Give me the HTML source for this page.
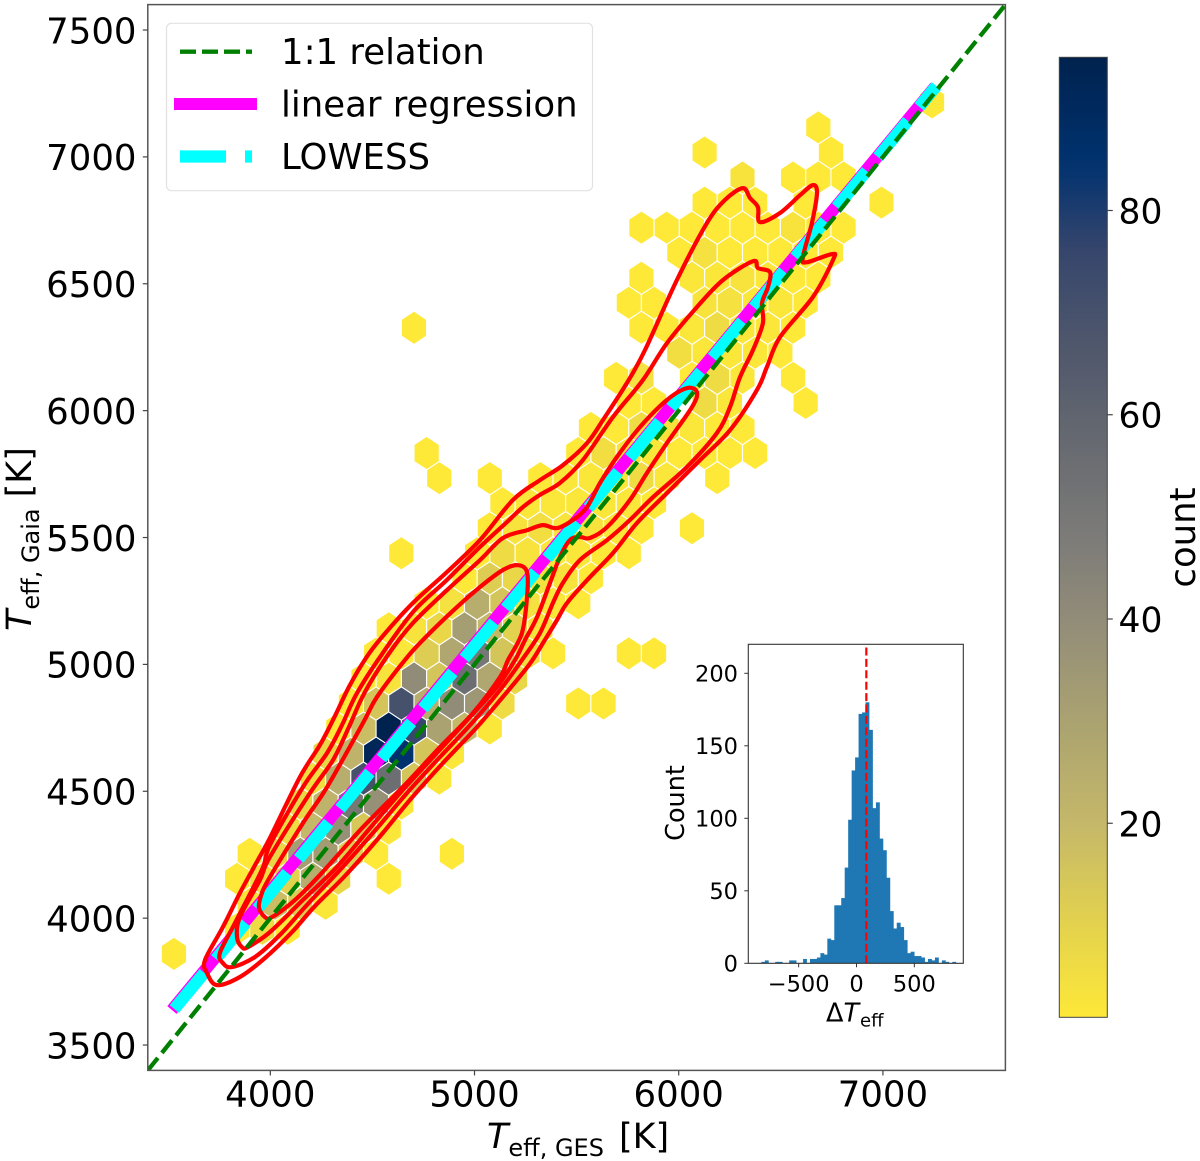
<!DOCTYPE html>
<html>
<head>
<meta charset="utf-8">
<title>Teff GES vs Gaia</title>
<style>
html,body{margin:0;padding:0;background:#fff;}
svg{display:block;font-family:"DejaVu Sans","Liberation Sans",sans-serif;}
</style>
</head>
<body>
<svg id="fig" xmlns="http://www.w3.org/2000/svg" width="1200" height="1161" viewBox="0 0 1200 1161">
  <defs>
    <clipPath id="axclip"><rect x="147.8" y="4.6" width="857.6" height="1065.8"/></clipPath>
    <linearGradient id="cbgrad" x1="0" y1="1" x2="0" y2="0"></linearGradient>
  </defs>
  <g id="hexes" clip-path="url(#axclip)"></g>
  <g id="lines" clip-path="url(#axclip)"></g>
  <g id="contours" clip-path="url(#axclip)"></g>
  <g id="identity" clip-path="url(#axclip)"></g>
  <rect x="147.8" y="4.6" width="857.6" height="1065.8" fill="none" stroke="#555" stroke-width="1.5"/>
  <g id="mainticks"></g>
  <text x="487" y="1148" font-size="35" fill="#000"><tspan font-style="italic">T</tspan><tspan font-size="24" dy="8" dx="0">eff, GES</tspan><tspan dy="-8" dx="15">[K]</tspan></text>
  <text transform="translate(31,631) rotate(-90)" font-size="35" fill="#000"><tspan font-style="italic">T</tspan><tspan font-size="24" dy="8" dx="0">eff, Gaia</tspan><tspan dy="-8" dx="11">[K]</tspan></text>

  <g>
    <rect x="166.5" y="23.3" width="426" height="167.4" rx="5" fill="#fff" fill-opacity="0.85" stroke="#e2e2e2" stroke-width="1.2"/>
    <line x1="180" y1="51.7" x2="252" y2="51.7" stroke="#008000" stroke-width="4.3" stroke-dasharray="16 6"/>
    <line x1="174" y1="104" x2="257" y2="104" stroke="#ff00ff" stroke-width="12"/>
    <line x1="180" y1="156.5" x2="252" y2="156.5" stroke="#00ffff" stroke-width="12.3" stroke-dasharray="46 19"/>
    <text x="281" y="64" font-size="35.5" fill="#000">1:1 relation</text>
    <text x="281" y="116.5" font-size="35.5" fill="#000">linear regression</text>
    <text x="281" y="169" font-size="35.5" fill="#000">LOWESS</text>
  </g>

  <g>
    <rect x="748.3" y="644.3" width="215" height="319" fill="#fff"/>
    <g id="histbars"></g>
    <line id="histmean" stroke="#ff0000" stroke-width="2.2" stroke-dasharray="8 3.4"/>
    <rect x="748.3" y="644.3" width="215" height="319" fill="none" stroke="#333" stroke-width="1.1"/>
    <g id="insetticks"></g>
    <text transform="translate(684,803) rotate(-90)" text-anchor="middle" font-size="25.5" fill="#000">Count</text>
    <text x="826" y="1021.5" font-size="25.5" fill="#000">Δ<tspan font-style="italic">T</tspan><tspan font-size="18" dy="5" dx="1">eff</tspan></text>
  </g>

  <g>
    <rect x="1059.3" y="57.3" width="48" height="960" fill="url(#cbgrad)" stroke="#444" stroke-width="1"/>
    <g id="cbticks"></g>
    <text transform="translate(1195,537.5) rotate(-90)" text-anchor="middle" font-size="35.5" fill="#000">count</text>
  </g>
</svg>
<script>
// ---- main axis tick values ----
const xTickValues = [4000, 5000, 6000, 7000];
const yTickValues = [3500, 4000, 4500, 5000, 5500, 6000, 6500, 7000, 7500];
const colorbarTicks = [20, 40, 60, 80];
const colorRange = [1, 95];

// ---- hexbin grid (kelvin) and counts: {row: {col: count}} ----
const hexOriginGes = 3528;
const hexOriginGaia = 3859;
const hexBinGes = 123.75;
const hexBinGaia = 98.7;
const hexbinCounts = {
  0:{0:1},
  1:{2:1,3:6,4:1},
  2:{3:3,4:18,5:12,6:2},
  3:{2:1,3:5,4:10,5:25,6:8,8:1},
  4:{3:1,4:8,5:32,6:33,7:12,8:1,11:1},
  5:{4:6,5:20,6:38,7:14,8:2},
  6:{5:8,6:22,7:50,8:38,9:2},
  7:{5:5,6:25,7:70,8:55,9:15,10:2},
  8:{6:8,7:22,8:92,9:85,10:15,11:2},
  9:{6:1,7:18,8:95,9:75,10:30,11:20,12:2},
  10:{7:1,8:15,9:70,10:25,11:40,12:35,13:6,16:1,17:1},
  11:{7:1,8:3,9:40,10:15,11:55,12:28,13:8},
  12:{8:1,9:2,10:12,11:28,12:50,13:15,14:5,15:1,18:1,19:1},
  13:{8:1,9:3,10:8,11:32,12:20,13:10,14:3},
  14:{10:1,11:4,12:25,13:15,14:4,15:2,16:1},
  15:{11:1,12:12,13:8,14:4,15:3,16:1},
  16:{9:1,12:1,13:6,14:3,15:2,16:2,17:1,18:1},
  17:{12:1,13:3,14:5,15:3,16:3,17:2,18:1,20:1},
  18:{13:1,14:2,15:2,16:2,17:2,18:2,19:1},
  19:{10:1,12:1,14:1,15:2,16:2,17:2,18:6,19:2,21:1},
  20:{10:1,16:1,17:5,18:3,19:2,20:1,21:1,22:1,23:1},
  21:{16:1,17:1,18:6,19:3,20:2,21:1,22:1},
  22:{18:1,19:1,21:6,22:2,25:1},
  23:{17:1,18:4,20:1,21:6,22:2,24:1},
  24:{20:5,21:2,22:2,23:2,24:1},
  25:{9:1,18:1,19:1,20:2,21:6,22:2,23:2,24:1},
  26:{18:1,19:1,21:3,22:4,23:2,24:2,25:1},
  27:{18:1,20:2,21:2,22:3,23:2,24:1,25:1},
  28:{20:1,21:4,22:1,23:1,24:1,25:1,26:1},
  29:{18:1,19:1,20:1,21:1,22:1,23:1,24:3,25:1,26:1},
  30:{21:1,22:1,23:1,25:1,28:1},
  31:{22:3,24:1,25:1,26:1},
  32:{21:1,26:1},
  33:{25:1},
  34:{30:1}
};

// ---- fitted relations ----
const identityGes = [3400, 7600];
const identityGaia = [3400, 7600];
const regressionGes = [3518, 7256];
const regressionGaia = [3638, 7277];
const lowessGes = [3530, 4000, 4500, 5000, 5500, 6000, 6500, 7000, 7262];
const lowessGaia = [3642, 4098, 4586, 5072, 5560, 6048, 6536, 7022, 7280];

// ---- KDE contours: closed outlines, kelvin ----
const contourOuterGes = [3690,3680,3768,3851,3939,3998,4145,4243,4312,4385,4468,4547,4698,4865,5027,5188,5320,5433,5551,5629,5746,5835,5991,6138,6226,6314,6349,6388,6398,6496,6594,6657,6677,6652,6608,6628,6750,6755,6657,6496,6432,6383,6251,6104,5942,5795,5678,5551,5453,5404,5335,5267,5139,5012,4845,4684,4522,4365,4219,4106,3974,3851,3739];
const contourOuterGaia = [3784,3835,3965,4099,4229,4316,4556,4682,4789,4911,5025,5108,5242,5364,5490,5648,5726,5785,5872,5963,6109,6239,6515,6739,6830,6877,6838,6802,6743,6779,6849,6889,6857,6739,6605,6585,6617,6593,6448,6290,6172,6081,5923,5805,5675,5557,5439,5332,5242,5175,5084,4998,4872,4753,4611,4466,4308,4166,4048,3945,3843,3768,3736];
const contourSecondGes = [3753,3827,3959,3998,4160,4278,4351,4419,4527,4698,4865,5027,5159,5237,5320,5418,5531,5678,5825,5942,6089,6217,6364,6388,6447,6437,6408,6412,6364,6300,6251,6187,6040,5874,5761,5649,5516,5433,5384,5320,5232,5125,4992,4831,4669,4503,4341,4179,4047,3925,3812,3768];
const contourSecondGaia = [3863,3981,4190,4288,4517,4651,4761,4879,5017,5206,5333,5463,5561,5620,5668,5715,5806,5975,6121,6266,6408,6515,6589,6562,6546,6487,6424,6345,6239,6132,6014,5912,5778,5659,5569,5490,5411,5321,5242,5123,5017,4899,4773,4635,4493,4336,4190,4052,3934,3847,3807,3823];
const contourThirdGes = [3837,3851,3949,3998,4194,4307,4385,4463,4586,4698,4865,5027,5139,5257,5335,5404,5482,5551,5614,5697,5810,5942,6040,6089,6065,5942,5844,5761,5649,5565,5516,5467,5418,5369,5306,5247,5198,5110,4978,4816,4649,4488,4326,4160,3998,3890,3861];
const contourThirdGaia = [3925,4004,4150,4241,4493,4623,4753,4891,5049,5163,5293,5411,5498,5529,5549,5537,5569,5620,5714,5817,5935,6042,6089,6073,6014,5872,5754,5648,5541,5498,5502,5490,5423,5320,5186,5096,5017,4911,4793,4651,4505,4355,4202,4072,3945,3886,3886];
const contourInnerGes = [3944,3959,3998,4160,4278,4454,4522,4659,4747,4914,5027,5139,5213,5257,5257,5232,5164,5125,4992,4831,4649,4454,4243,4121,4008,3974];
const contourInnerGaia = [4043,4099,4162,4375,4517,4769,4871,5017,5096,5226,5305,5372,5391,5364,5265,5123,5017,4950,4808,4674,4517,4359,4170,4072,4004,4004];

// ---- inset histogram ----
const histFirstEdge = -822;
const histBinWidth = 30;
const histCounts = [1,2,0,0,1,1,0,0,2,2,0,0,3,0,3,3,4,7,6,17,16,40,40,45,66,99,133,142,172,173,180,161,107,111,86,78,59,36,24,28,25,16,7,8,5,5,4,1,3,2,4,0,2,1,0,1];
const histMean = 85;
const insetXTicks = [-500, 0, 500];
const insetYTicks = [0, 50, 100, 150, 200];

// ---- axis functions ----
function X(t){ return 147.8 + (t - 3400) * 0.2042; }
function Y(t){ return 1070.4 - (t - 3400) * 0.25375; }
function insetX(v){ return 856.5 + v * 0.1157; }
function insetY(v){ return 963.3 - v * 1.45; }
function cbY(v){ return 1017.3 - (v - colorRange[0]) * (960 / (colorRange[1] - colorRange[0])); }

// ---- colour map (cividis reversed) ----
const cmapStops = [[0,[254,232,56]],[0.1,[226,209,78]],[0.2,[197,184,105]],[0.3,[172,164,112]],[0.4,[149,143,120]],[0.5,[124,123,120]],[0.6,[102,105,112]],[0.7,[79,87,108]],[0.8,[53,69,108]],[0.89,[0,50,111]],[1,[0,34,78]]];
function cmap(t){
  t = Math.max(0, Math.min(1, t));
  for (let i = 1; i < cmapStops.length; i++){
    if (t <= cmapStops[i][0]){
      const a = cmapStops[i-1], b = cmapStops[i];
      const f = (t - a[0]) / (b[0] - a[0]);
      const c = a[1].map((v, j) => Math.round(v + (b[1][j] - v) * f));
      return 'rgb(' + c.join(',') + ')';
    }
  }
  return 'rgb(0,34,78)';
}
const NS = 'http://www.w3.org/2000/svg';
function mk(tag, attrs, parent){
  const e = document.createElementNS(NS, tag);
  for (const k in attrs) e.setAttribute(k, attrs[k]);
  parent.appendChild(e);
  return e;
}

// colorbar gradient
const grad = document.getElementById('cbgrad');
for (let i = 0; i <= 40; i++){
  mk('stop', {offset: (i / 40), 'stop-color': cmap(i / 40)}, grad);
}

// hexes
const hexG = document.getElementById('hexes');
Object.keys(hexbinCounts).forEach(function(rowKey){
  const row = +rowKey;
  const cells = hexbinCounts[rowKey];
  Object.keys(cells).forEach(function(colKey){
    const col = +colKey;
    const count = cells[colKey];
    const cx = hexOriginGes + hexBinGes * (col + (row % 2 ? 0.5 : 0));
    const cy = hexOriginGaia + hexBinGaia * row;
    const hw = hexBinGes / 2;
    const hh = hexBinGaia * 2 / 3;
    const pts = [[cx,cy+hh],[cx+hw,cy+hh/2],[cx+hw,cy-hh/2],[cx,cy-hh],[cx-hw,cy-hh/2],[cx-hw,cy+hh/2]]
      .map(p => X(p[0]).toFixed(1) + ',' + Y(p[1]).toFixed(1)).join(' ');
    const poly = mk('polygon', {points: pts, fill: cmap((count - colorRange[0]) / (colorRange[1] - colorRange[0])), stroke: '#fff', 'stroke-width': 1.1}, hexG);
    
    
  });
});

// trend lines
function pathFrom(gs, ts){
  return gs.map((g, i) => (i ? 'L' : 'M') + X(g).toFixed(1) + ' ' + Y(ts[i]).toFixed(1)).join(' ');
}
const lineG = document.getElementById('lines');
const regLine = mk('path', {d: pathFrom(regressionGes, regressionGaia), fill: 'none', stroke: '#ff00ff', 'stroke-width': 12}, lineG);


const lowLine = mk('path', {d: pathFrom(lowessGes, lowessGaia), fill: 'none', stroke: '#00ffff', 'stroke-width': 12, 'stroke-dasharray': '47 18'}, lineG);



// contours (closed Catmull-Rom through the outline vertices)
function smoothClosed(gs, ts){
  const p = gs.map((g, i) => [X(g), Y(ts[i])]);
  const n = p.length;
  let d = 'M' + p[0][0].toFixed(1) + ' ' + p[0][1].toFixed(1);
  for (let i = 0; i < n; i++){
    const p0 = p[(i - 1 + n) % n], p1 = p[i], p2 = p[(i + 1) % n], p3 = p[(i + 2) % n];
    const c1 = [p1[0] + (p2[0] - p0[0]) / 6, p1[1] + (p2[1] - p0[1]) / 6];
    const c2 = [p2[0] - (p3[0] - p1[0]) / 6, p2[1] - (p3[1] - p1[1]) / 6];
    d += 'C' + c1[0].toFixed(1) + ' ' + c1[1].toFixed(1) + ' ' + c2[0].toFixed(1) + ' ' + c2[1].toFixed(1) + ' ' + p2[0].toFixed(1) + ' ' + p2[1].toFixed(1);
  }
  return d + 'Z';
}
const contourG = document.getElementById('contours');
const contourOuter = mk('path', {d: smoothClosed(contourOuterGes, contourOuterGaia), fill: 'none', stroke: '#ff0000', 'stroke-width': 4.2}, contourG);


const contourSecond = mk('path', {d: smoothClosed(contourSecondGes, contourSecondGaia), fill: 'none', stroke: '#ff0000', 'stroke-width': 4.2}, contourG);


const contourThird = mk('path', {d: smoothClosed(contourThirdGes, contourThirdGaia), fill: 'none', stroke: '#ff0000', 'stroke-width': 4.2}, contourG);


const contourInner = mk('path', {d: smoothClosed(contourInnerGes, contourInnerGaia), fill: 'none', stroke: '#ff0000', 'stroke-width': 4.2}, contourG);



// 1:1 line
const idLine = mk('path', {d: pathFrom(identityGes, identityGaia), fill: 'none', stroke: '#008000', 'stroke-width': 4.3, 'stroke-dasharray': '16 6.5'}, document.getElementById('identity'));



// main ticks
const tickG = document.getElementById('mainticks');
xTickValues.forEach(function(v){
  const t = mk('line', {x1: X(v), x2: X(v), y1: 1070.4, y2: 1075.5, stroke: '#444', 'stroke-width': 1.2}, tickG);
  
  
  const l = mk('text', {x: X(v), y: 1106.5, 'font-size': 35.5, 'text-anchor': 'middle', fill: '#000'}, tickG);
  l.textContent = v;
  
  
});
yTickValues.forEach(function(v){
  const t = mk('line', {x1: 142.8, x2: 147.8, y1: Y(v), y2: Y(v), stroke: '#444', 'stroke-width': 1.2}, tickG);
  
  
  const l = mk('text', {x: 136.5, y: Y(v) + 13.3, 'font-size': 35.5, 'text-anchor': 'end', fill: '#000'}, tickG);
  l.textContent = v;
  
  
});

// colorbar ticks
const cbG = document.getElementById('cbticks');
colorbarTicks.forEach(function(v){
  const t = mk('line', {x1: 1107.3, x2: 1112.8, y1: cbY(v), y2: cbY(v), stroke: '#444', 'stroke-width': 1.2}, cbG);
  
  
  const l = mk('text', {x: 1118.5, y: cbY(v) + 13, 'font-size': 34.5, fill: '#000'}, cbG);
  l.textContent = v;
  
  
});

// inset histogram
const barG = document.getElementById('histbars');
histCounts.forEach(function(c, i){
  if (!c) return;
  const x0 = insetX(histFirstEdge + i * histBinWidth);
  const x1 = insetX(histFirstEdge + (i + 1) * histBinWidth);
  const bar = mk('rect', {x: x0.toFixed(2), y: insetY(c).toFixed(2), width: (x1 - x0 + 0.4).toFixed(2), height: (insetY(0) - insetY(c)).toFixed(2), fill: '#1f77b4'}, barG);
  
  
});
const mean = document.getElementById('histmean');
mean.setAttribute('x1', insetX(histMean));
mean.setAttribute('x2', insetX(histMean));
mean.setAttribute('y1', insetY(0));
mean.setAttribute('y2', 644.3);

const insG = document.getElementById('insetticks');
insetXTicks.forEach(function(v){
  const t = mk('line', {x1: insetX(v), x2: insetX(v), y1: 963.3, y2: 967.3, stroke: '#333', 'stroke-width': 1}, insG);
  
  
  const l = mk('text', {x: insetX(v), y: 991.5, 'font-size': 22.5, 'text-anchor': 'middle', fill: '#000'}, insG);
  l.textContent = String(v).replace('-', '\u2212');
  
  
});
insetYTicks.forEach(function(v){
  const t = mk('line', {x1: 744.3, x2: 748.3, y1: insetY(v), y2: insetY(v), stroke: '#333', 'stroke-width': 1}, insG);
  
  
  const l = mk('text', {x: 738, y: insetY(v) + 8, 'font-size': 22.5, 'text-anchor': 'end', fill: '#000'}, insG);
  l.textContent = v;
  
  
});
</script>
</body>
</html>
